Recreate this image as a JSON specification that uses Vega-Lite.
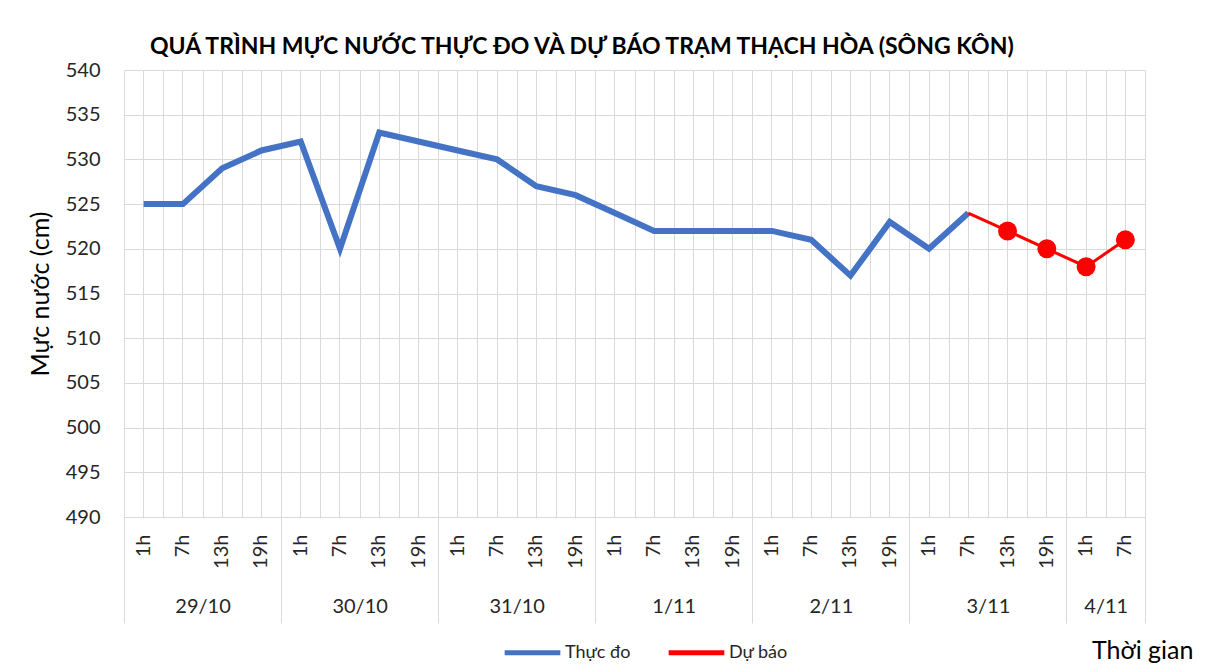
{
  "$schema": "https://vega.github.io/schema/vega-lite/v6.json",
  "width": 1021,
  "height": 447,
  "autosize": {"type": "none"},
  "padding": {"left": 124, "top": 70, "right": 72, "bottom": 151},
  "background": "white",
  "title": {
    "text": "QUÁ TRÌNH MỰC NƯỚC THỰC ĐO VÀ DỰ BÁO TRẠM THẠCH HÒA (SÔNG KÔN)",
    "font": "Lato", "fontSize": 23, "fontWeight": "bold", "color": "#000000",
    "anchor": "start", "frame": "group", "dx": 26, "offset": 1
  },
  "data": {"values": [
    {"key": "29/10|1h", "series": "Thực đo", "value": 525},
    {"key": "29/10|7h", "series": "Thực đo", "value": 525},
    {"key": "29/10|13h", "series": "Thực đo", "value": 529},
    {"key": "29/10|19h", "series": "Thực đo", "value": 531},
    {"key": "30/10|1h", "series": "Thực đo", "value": 532},
    {"key": "30/10|7h", "series": "Thực đo", "value": 520},
    {"key": "30/10|13h", "series": "Thực đo", "value": 533},
    {"key": "30/10|19h", "series": "Thực đo", "value": 532},
    {"key": "31/10|1h", "series": "Thực đo", "value": 531},
    {"key": "31/10|7h", "series": "Thực đo", "value": 530},
    {"key": "31/10|13h", "series": "Thực đo", "value": 527},
    {"key": "31/10|19h", "series": "Thực đo", "value": 526},
    {"key": "1/11|1h", "series": "Thực đo", "value": 524},
    {"key": "1/11|7h", "series": "Thực đo", "value": 522},
    {"key": "1/11|13h", "series": "Thực đo", "value": 522},
    {"key": "1/11|19h", "series": "Thực đo", "value": 522},
    {"key": "2/11|1h", "series": "Thực đo", "value": 522},
    {"key": "2/11|7h", "series": "Thực đo", "value": 521},
    {"key": "2/11|13h", "series": "Thực đo", "value": 517},
    {"key": "2/11|19h", "series": "Thực đo", "value": 523},
    {"key": "3/11|1h", "series": "Thực đo", "value": 520},
    {"key": "3/11|7h", "series": "Thực đo", "value": 524},
    {"key": "3/11|7h", "series": "Dự báo", "value": 524},
    {"key": "3/11|13h", "series": "Dự báo", "value": 522},
    {"key": "3/11|19h", "series": "Dự báo", "value": 520},
    {"key": "4/11|1h", "series": "Dự báo", "value": 518},
    {"key": "4/11|7h", "series": "Dự báo", "value": 521}
  ]},
  "layer": [
    {
      "transform": [{"filter": "datum.series === 'Thực đo'"}],
      "mark": {"type": "line", "strokeWidth": 6, "strokeJoin": "miter"},
      "encoding": {
        "x": {
          "field": "key", "type": "nominal",
          "scale": {
            "domain": ["29/10|1h","29/10|7h","29/10|13h","29/10|19h","30/10|1h","30/10|7h","30/10|13h","30/10|19h","31/10|1h","31/10|7h","31/10|13h","31/10|19h","1/11|1h","1/11|7h","1/11|13h","1/11|19h","2/11|1h","2/11|7h","2/11|13h","2/11|19h","3/11|1h","3/11|7h","3/11|13h","3/11|19h","4/11|1h","4/11|7h"],
            "paddingInner": 0, "paddingOuter": 0
          },
          "axis": {
            "orient": "bottom", "title": null,
            "labelExpr": "isString(datum.value) ? split(datum.value, '|')[1] : ''",
            "labelAngle": -90, "labelAlign": "right", "labelBaseline": "middle",
            "labelFont": "Lato", "labelFontSize": 20, "labelColor": "#262626",
            "labelPadding": 17, "ticks": false, "tickSize": 0, "domain": false,
            "grid": true, "gridColor": "#D9D9D9", "gridWidth": 1
          }
        },
        "y": {
          "field": "value", "type": "quantitative",
          "scale": {"domain": [490, 540], "nice": false, "zero": false},
          "axis": {
            "title": "Mực nước (cm)",
            "values": [490, 495, 500, 505, 510, 515, 520, 525, 530, 535, 540],
            "grid": true, "gridColor": "#D9D9D9", "domain": false, "ticks": false,
            "labelFont": "Lato", "labelFontSize": 20, "labelColor": "#262626", "labelPadding": 24,
            "titleFont": "Lato", "titleFontSize": 25, "titleFontWeight": "normal", "titleColor": "#000000",
            "titlePadding": 12
          }
        },
        "color": {
          "field": "series", "type": "nominal",
          "scale": {"domain": ["Thực đo", "Dự báo"], "range": ["#4472C4", "#FF0000"]},
          "legend": {
            "title": null, "orient": "none", "legendX": 378, "legendY": 552,
            "direction": "horizontal", "symbolType": "stroke", "symbolStrokeWidth": 5,
            "symbolSize": 3100, "labelOffset": 2, "labelFont": "Lato", "labelFontSize": 18, "labelColor": "#262626",
            "columnPadding": 27
          }
        }
      }
    },
    {
      "transform": [{"filter": "datum.series === 'Dự báo'"}],
      "mark": {"type": "line", "strokeWidth": 3},
      "encoding": {
        "x": {
          "field": "key", "type": "nominal",
          "axis": {
            "orient": "bottom", "title": null, "labels": false, "ticks": false, "domain": false,
            "grid": true, "tickBand": "extent", "gridColor": "#D9D9D9", "gridWidth": 1
          }
        },
        "y": {"field": "value", "type": "quantitative"},
        "color": {"field": "series", "type": "nominal"}
      }
    },
    {
      "transform": [{"filter": "datum.series === 'Dự báo' && datum.key !== '3/11|7h'"}],
      "mark": {"type": "point", "filled": true, "color": "#FF0000", "size": 360, "opacity": 1},
      "encoding": {
        "x": {
          "field": "key", "type": "nominal",
          "axis": {
            "orient": "bottom", "title": "Thời gian", "grid": false, "domain": false,
            "tickBand": "extent", "tickSize": 106, "tickColor": "#D9D9D9", "tickWidth": 1,
            "tickOpacity": {"condition": {"test": "datum.label === '' || !isString(datum.value) || indexof(datum.value, '|19h') >= 0 || datum.value === '4/11|7h'", "value": 1}, "value": 0},
            "labelExpr": "!isString(datum.value) ? '' : (datum.value === '4/11|1h' ? '4/11' : ((indexof(datum.value, '|7h') >= 0 && datum.value !== '4/11|7h') ? split(datum.value, '|')[0] : ''))",
            "labelAngle": 0, "labelAlign": "center", "labelBaseline": "middle",
            "labelOffset": 19.63, "labelPadding": -17,
            "labelFont": "Lato", "labelFontSize": 20, "labelColor": "#262626",
            "titleFont": "Lato", "titleFontSize": 25, "titleFontWeight": "normal", "titleColor": "#000000",
            "titleAlign": "right", "titleBaseline": "middle", "titleX": 1069, "titleY": 133, "titleAnchor": null
          }
        },
        "y": {"field": "value", "type": "quantitative"}
      }
    }
  ],
  "resolve": {"axis": {"x": "independent"}},
  "config": {"view": {"stroke": null}}
}
